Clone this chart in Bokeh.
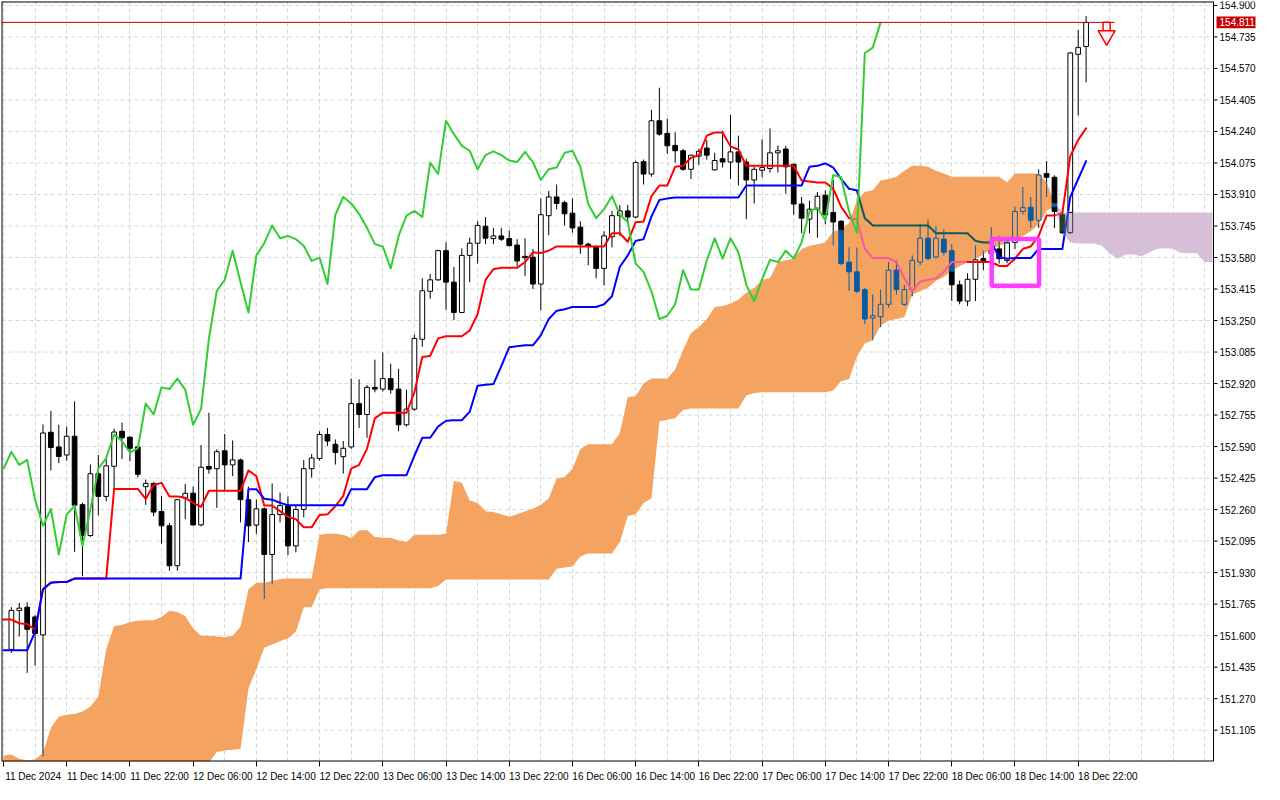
import numpy as np
from bokeh.plotting import figure
from bokeh.models import Range1d, FixedTicker
from bokeh.core.properties import value
from bokeh.embed import file_html
from bokeh.resources import INLINE

# ---------------- data (H1 bars, bar index 1 = 11 Dec 2024 07:00 ... 137 = 18 Dec 23:00)
opens = [151.528, 151.732, 151.749, 151.698, 151.604, 152.665, 152.588, 152.546, 152.644, 152.286,
         152.124, 152.448, 152.329, 152.487, 152.670, 152.639, 152.588, 152.380, 152.397, 152.250,
         152.175, 151.966, 152.320, 152.346, 152.180, 152.486, 152.474, 152.568, 152.494, 152.520,
         152.312, 152.179, 152.264, 152.025, 152.234, 152.281, 152.070, 152.261, 152.474, 152.528,
         152.653, 152.602, 152.537, 152.588, 152.815, 152.758, 152.900, 152.891, 152.946, 152.891,
         152.704, 152.786, 153.152, 153.403, 153.463, 153.616, 153.451, 153.292, 153.591, 153.655,
         153.744, 153.679, 153.693, 153.679, 153.645, 153.586, 153.582, 153.441, 153.799, 153.897,
         153.867, 153.812, 153.739, 153.650, 153.638, 153.523, 153.689, 153.799, 153.824, 153.792,
         154.082, 154.017, 154.296, 154.230, 154.167, 154.139, 154.042, 154.111, 154.153, 154.039,
         154.097, 154.080, 154.133, 154.080, 153.986, 154.037, 154.046, 154.128, 154.148, 154.068,
         153.860, 153.781, 153.833, 153.906, 153.816, 153.770, 153.556, 153.505, 153.412, 153.263,
         153.270, 153.335, 153.514, 153.335, 153.412, 153.556, 153.681, 153.582, 153.676, 153.616,
         153.437, 153.352, 153.466, 153.574, 153.601, 153.625, 153.565, 153.659, 153.821, 153.843,
         153.775, 154.020, 154.000, 153.804, 153.710, 154.644, 154.685]
highs = [151.749, 151.771, 151.775, 151.708, 152.706, 152.777, 152.704, 152.695, 152.827, 152.296,
         152.496, 152.546, 152.525, 152.684, 152.716, 152.644, 152.593, 152.418, 152.404, 152.332,
         152.189, 152.312, 152.394, 152.380, 152.598, 152.767, 152.576, 152.656, 152.622, 152.527,
         152.380, 152.312, 152.271, 152.397, 152.349, 152.329, 152.281, 152.520, 152.551, 152.670,
         152.687, 152.627, 152.619, 152.946, 152.942, 152.912, 153.045, 153.083, 153.024, 152.997,
         152.888, 153.176, 153.471, 153.494, 153.621, 153.659, 153.531, 153.628, 153.684, 153.770,
         153.792, 153.735, 153.735, 153.722, 153.676, 153.681, 153.625, 153.889, 153.928, 153.962,
         153.877, 153.889, 153.770, 153.657, 153.642, 153.718, 153.824, 153.855, 153.855, 154.088,
         154.093, 154.353, 154.469, 154.307, 154.235, 154.148, 154.116, 154.150, 154.196, 154.128,
         154.244, 154.327, 154.218, 154.097, 154.055, 154.199, 154.256, 154.167, 154.165, 154.072,
         153.897, 153.877, 153.923, 153.932, 153.986, 153.775, 153.633, 153.633, 153.420, 153.386,
         153.412, 153.556, 153.565, 153.437, 153.591, 153.756, 153.778, 153.744, 153.727, 153.650,
         153.459, 153.497, 153.642, 153.616, 153.739, 153.693, 153.677, 153.846, 153.949, 153.897,
         154.042, 154.085, 154.010, 153.821, 154.656, 154.771, 154.844]
lows = [151.510, 151.596, 151.405, 151.442, 150.968, 152.465, 152.503, 152.516, 152.039, 151.911,
        152.117, 152.230, 152.303, 152.363, 152.525, 152.513, 152.428, 152.285, 152.226, 152.082,
        151.940, 151.940, 152.210, 152.175, 152.172, 152.448, 152.269, 152.363, 152.435, 152.193,
        152.090, 152.133, 151.792, 151.868, 152.193, 152.022, 152.036, 152.220, 152.428, 152.516,
        152.593, 152.496, 152.448, 152.578, 152.687, 152.636, 152.874, 152.878, 152.866, 152.670,
        152.695, 152.777, 153.113, 153.364, 153.458, 153.306, 153.253, 153.289, 153.451, 153.548,
        153.650, 153.650, 153.667, 153.638, 153.534, 153.483, 153.415, 153.304, 153.696, 153.833,
        153.748, 153.710, 153.599, 153.539, 153.471, 153.434, 153.633, 153.693, 153.761, 153.785,
        153.962, 154.003, 154.218, 154.123, 154.077, 154.034, 153.991, 154.065, 154.093, 154.036,
        154.051, 153.991, 153.957, 153.781, 153.863, 154.000, 154.025, 154.025, 153.914, 153.804,
        153.707, 153.707, 153.684, 153.754, 153.642, 153.539, 153.406, 153.395, 153.232, 153.147,
        153.216, 153.318, 153.386, 153.326, 153.377, 153.539, 153.565, 153.575, 153.591, 153.352,
        153.335, 153.326, 153.352, 153.514, 153.565, 153.548, 153.550, 153.625, 153.804, 153.735,
        153.735, 153.897, 153.735, 153.703, 153.703, 154.324, 154.497]
closes = [151.732, 151.744, 151.633, 151.611, 152.661, 152.585, 152.538, 152.644, 152.283, 152.124,
          152.448, 152.329, 152.489, 152.666, 152.636, 152.581, 152.445, 152.397, 152.247, 152.175,
          151.966, 152.312, 152.345, 152.180, 152.482, 152.472, 152.563, 152.494, 152.520, 152.312,
          152.175, 152.264, 152.025, 152.234, 152.281, 152.070, 152.261, 152.474, 152.530, 152.653,
          152.619, 152.559, 152.581, 152.815, 152.758, 152.900, 152.891, 152.946, 152.888, 152.704,
          152.786, 153.156, 153.406, 153.463, 153.616, 153.451, 153.292, 153.591, 153.655, 153.748,
          153.681, 153.693, 153.676, 153.642, 153.562, 153.579, 153.441, 153.804, 153.897, 153.863,
          153.809, 153.735, 153.650, 153.638, 153.523, 153.693, 153.799, 153.824, 153.792, 154.077,
          154.017, 154.296, 154.226, 154.165, 154.139, 154.042, 154.116, 154.136, 154.116, 154.088,
          154.080, 154.133, 154.080, 153.986, 154.042, 154.051, 154.128, 154.139, 154.055, 153.860,
          153.786, 153.833, 153.901, 153.804, 153.766, 153.548, 153.505, 153.403, 153.258, 153.275,
          153.335, 153.514, 153.412, 153.412, 153.565, 153.681, 153.574, 153.681, 153.608, 153.437,
          153.352, 153.466, 153.568, 153.556, 153.616, 153.574, 153.659, 153.821, 153.841, 153.775,
          154.012, 154.000, 153.821, 153.710, 154.651, 154.679, 154.811]

# Ichimoku lines, bar index 0..137
tenkan = [151.684, 151.684, 151.664, 151.661, 151.630, 151.843, 151.877, 151.881, 151.881, 151.899,
          151.899, 151.899, 151.899, 151.899, 152.368, 152.368, 152.368, 152.368, 152.316, 152.389,
          152.400, 152.329, 152.329, 152.322, 152.295, 152.274, 152.359, 152.359, 152.359, 152.359,
          152.359, 152.465, 152.435, 152.281, 152.281, 152.252, 152.221, 152.210, 152.167, 152.167,
          152.232, 152.235, 152.278, 152.332, 152.475, 152.494, 152.578, 152.738, 152.767, 152.767,
          152.767, 152.767, 152.874, 153.059, 153.065, 153.156, 153.168, 153.168, 153.168, 153.198,
          153.284, 153.463, 153.519, 153.526, 153.526, 153.526, 153.556, 153.607, 153.604, 153.616,
          153.638, 153.638, 153.638, 153.638, 153.638, 153.638, 153.638, 153.707, 153.707, 153.662,
          153.765, 153.768, 153.901, 153.957, 153.957, 154.055, 154.060, 154.102, 154.116, 154.218,
          154.235, 154.235, 154.162, 154.145, 154.060, 154.060, 154.060, 154.060, 154.060, 154.060,
          154.060, 153.983, 153.978, 153.973, 153.973, 153.940, 153.846, 153.786, 153.778, 153.625,
          153.577, 153.577, 153.577, 153.556, 153.471, 153.403, 153.454, 153.463, 153.471, 153.505,
          153.556, 153.556, 153.556, 153.556, 153.556, 153.556, 153.536, 153.536, 153.574, 153.625,
          153.638, 153.693, 153.800, 153.800, 153.812, 154.111, 154.196, 154.256]
kijun = [151.523, 151.523, 151.523, 151.523, 151.621, 151.843, 151.877, 151.881, 151.881, 151.899,
         151.899, 151.899, 151.899, 151.899, 151.899, 151.899, 151.899, 151.899, 151.899, 151.899,
         151.899, 151.899, 151.899, 151.899, 151.899, 151.899, 151.899, 151.899, 151.899, 151.899,
         151.899, 152.367, 152.367, 152.317, 152.312, 152.296, 152.283, 152.283, 152.283, 152.283,
         152.283, 152.283, 152.283, 152.283, 152.367, 152.367, 152.367, 152.430, 152.440, 152.440,
         152.440, 152.440, 152.542, 152.636, 152.636, 152.695, 152.725, 152.728, 152.728, 152.772,
         152.909, 152.914, 152.917, 153.011, 153.110, 153.116, 153.120, 153.120, 153.173, 153.258,
         153.301, 153.309, 153.321, 153.321, 153.321, 153.321, 153.335, 153.377, 153.531, 153.591,
         153.667, 153.676, 153.795, 153.881, 153.889, 153.894, 153.894, 153.894, 153.894, 153.894,
         153.894, 153.894, 153.894, 153.894, 153.957, 153.957, 153.957, 153.957, 153.957, 153.957,
         153.957, 153.957, 154.055, 154.060, 154.073, 154.051, 153.991, 153.940, 153.932, 153.786,
         153.748, 153.748, 153.748, 153.748, 153.748, 153.748, 153.748, 153.748, 153.707, 153.707,
         153.707, 153.707, 153.707, 153.667, 153.659, 153.659, 153.582, 153.574, 153.577, 153.577,
         153.577, 153.625, 153.625, 153.625, 153.625, 153.897, 153.991, 154.085]
# cloud spans (already shifted 26 bars ahead), bar index 0..153
span_a = [150.973, 150.978, 150.956, 150.948, 150.951, 150.985, 151.118, 151.175, 151.186, 151.190,
          151.203, 151.229, 151.280, 151.529, 151.650, 151.656, 151.671, 151.678, 151.681, 151.681,
          151.698, 151.730, 151.724, 151.703, 151.638, 151.599, 151.599, 151.596, 151.592, 151.599,
          151.647, 151.843, 151.877, 151.877, 151.886, 151.897, 151.899, 151.899, 151.899, 151.899,
          152.128, 152.133, 152.133, 152.128, 152.111, 152.150, 152.153, 152.116, 152.112, 152.112,
          152.098, 152.090, 152.128, 152.128, 152.128, 152.128, 152.133, 152.411, 152.400, 152.307,
          152.295, 152.252, 152.247, 152.235, 152.223, 152.235, 152.252, 152.264, 152.286, 152.320,
          152.423, 152.431, 152.474, 152.576, 152.602, 152.602, 152.602, 152.602, 152.661, 152.849,
          152.854, 152.920, 152.946, 152.946, 152.946, 152.994, 153.096, 153.185, 153.216, 153.258,
          153.321, 153.326, 153.338, 153.360, 153.395, 153.420, 153.463, 153.471, 153.556, 153.565,
          153.574, 153.625, 153.642, 153.650, 153.659, 153.718, 153.727, 153.761, 153.881, 153.923,
          153.932, 153.983, 153.991, 154.003, 154.034, 154.060, 154.060, 154.055, 154.034, 154.020,
          154.003, 154.003, 154.003, 154.003, 154.003, 154.003, 154.003, 153.974, 154.020, 154.020,
          154.020, 154.020, 153.974, 153.867, 153.718, 153.657, 153.653, 153.653, 153.653, 153.642,
          153.601, 153.574, 153.596, 153.596, 153.586, 153.606, 153.626, 153.628, 153.626, 153.604,
          153.604, 153.604, 153.556, 153.556]
span_b = [150.900, 150.900, 150.900, 150.900, 150.900, 150.900, 150.900, 150.900, 150.900, 150.900,
          150.900, 150.900, 150.900, 150.900, 150.900, 150.900, 150.900, 150.900, 150.900, 150.900,
          150.900, 150.900, 150.900, 150.900, 150.900, 150.900, 150.935, 150.991, 150.999, 151.002,
          151.007, 151.323, 151.425, 151.536, 151.553, 151.570, 151.587, 151.621, 151.749, 151.749,
          151.843, 151.848, 151.848, 151.848, 151.848, 151.848, 151.848, 151.848, 151.848, 151.848,
          151.848, 151.848, 151.848, 151.848, 151.848, 151.860, 151.894, 151.894, 151.894, 151.894,
          151.894, 151.894, 151.894, 151.894, 151.894, 151.894, 151.894, 151.894, 151.894, 151.894,
          151.950, 151.957, 151.962, 152.014, 152.030, 152.030, 152.030, 152.030, 152.090, 152.226,
          152.235, 152.295, 152.320, 152.721, 152.730, 152.738, 152.781, 152.789, 152.789, 152.789,
          152.789, 152.789, 152.789, 152.789, 152.858, 152.871, 152.874, 152.874, 152.874, 152.874,
          152.874, 152.874, 152.874, 152.874, 152.874, 152.883, 152.934, 152.942, 153.062, 153.130,
          153.147, 153.224, 153.249, 153.258, 153.267, 153.386, 153.403, 153.422, 153.458, 153.478,
          153.509, 153.534, 153.555, 153.573, 153.596, 153.626, 153.642, 153.657, 153.672, 153.693,
          153.718, 153.754, 153.826, 153.846, 153.816, 153.816, 153.816, 153.816, 153.816, 153.816,
          153.816, 153.816, 153.816, 153.816, 153.816, 153.816, 153.816, 153.816, 153.816, 153.816,
          153.816, 153.816, 153.816, 153.816]

tick_bars = [0, 8, 16, 24, 32, 40, 48, 56, 64, 72, 80, 88, 96, 104, 112, 120, 128, 136]
tick_labels = ["11 Dec 2024", "11 Dec 14:00", "11 Dec 22:00", "12 Dec 06:00", "12 Dec 14:00",
               "12 Dec 22:00", "13 Dec 06:00", "13 Dec 14:00", "13 Dec 22:00", "16 Dec 06:00",
               "16 Dec 14:00", "16 Dec 22:00", "17 Dec 06:00", "17 Dec 14:00", "17 Dec 22:00",
               "18 Dec 06:00", "18 Dec 14:00", "18 Dec 22:00"]
price_ticks = [154.900, 154.735, 154.570, 154.405, 154.240, 154.075, 153.910, 153.745, 153.580,
               153.415, 153.250, 153.085, 152.920, 152.755, 152.590, 152.425, 152.260, 152.095,
               151.930, 151.765, 151.600, 151.435, 151.270, 151.105]
bid_price = 154.811
signal_bar = 139.6
signal_price = 154.76
box_bars = (125.05, 131.05)
box_prices = (153.432, 153.677)

# ---------------- layout constants
X0, X_AXIS, X_END = -0.25, 153.125, 159.45       # chart area ends at X_AXIS, price scale beyond
Y0, Y1 = 150.941, 154.9205
PX_PER_BAR = 1212 / (X_AXIS - X0)

SANDY = (244, 164, 96)
THISTLE = (216, 191, 216)
BLACK = (0, 0, 0)
RED = (255, 0, 0)
BLUE = (0, 0, 255)
FONT = "Liberation Sans"


def hexc(rgb):
    return "#%02x%02x%02x" % tuple(rgb)


def xor_hex(under, cloud):
    return hexc(tuple(c ^ (255 - u) for u, c in zip(under, cloud)))


A = np.array(span_a)
B = np.array(span_b)
lo = np.minimum(A, B)
hi = np.maximum(A, B)
up = A >= B


def cloud_rgb(j):
    return SANDY if up[j] else THISTLE


def split(a, b, clo, chi):
    parts = []
    if a < clo:
        parts.append((a, min(b, clo), False))
    s, e = max(a, clo), min(b, chi)
    if e > s:
        parts.append((s, e, True))
    if b > chi:
        parts.append((max(a, chi), b, False))
    return parts


p = figure(frame_width=1262, frame_height=760,
           x_range=Range1d(X0, X_END), y_range=Range1d(Y0, Y1),
           y_axis_location=None, toolbar_location=None, output_backend="svg",
           min_border_left=1, min_border_top=1, min_border_right=1, min_border_bottom=22)
p.background_fill_color = "white"
p.border_fill_color = "white"
p.outline_line_color = None

# vertical grid (built-in) and horizontal grid (drawn only over the chart area)
p.xgrid.ticker = FixedTicker(ticks=list(range(0, 156, 4)))
p.xgrid.grid_line_color = "#d6d6d6"
p.xgrid.grid_line_dash = "4 3"
p.ygrid.grid_line_color = None
p.segment(x0=[X0] * len(price_ticks), y0=price_ticks, x1=[X_AXIS] * len(price_ticks), y1=price_ticks,
          line_color="#d6d6d6", line_dash="4 3", line_width=1)

# time axis
label_pos = [t + 3.75 for t in tick_bars]
p.xaxis.ticker = FixedTicker(ticks=label_pos, minor_ticks=tick_bars)
p.xaxis.major_label_overrides = {pos: lab for pos, lab in zip(label_pos, tick_labels)}
p.xaxis.major_tick_line_color = None
p.xaxis.minor_tick_out = 5
p.xaxis.minor_tick_in = 0
p.xaxis.minor_tick_line_color = "black"
p.xaxis.major_label_standoff = 3
p.xaxis.axis_line_color = None
p.xaxis.major_label_text_font = FONT
p.xaxis.major_label_text_font_size = "10px"
p.xaxis.major_label_text_color = "black"

# cloud
jj = np.arange(len(span_a))
n_up = 134
p.varea(x=jj[:n_up], y1=lo[:n_up], y2=hi[:n_up], fill_color=hexc(SANDY))
p.varea(x=jj[n_up - 1:], y1=lo[n_up - 1:], y2=hi[n_up - 1:], fill_color=hexc(THISTLE))

# candles (colours inverted where the cloud covers them, as in the terminal)
wx, wy0, wy1, wc = [], [], [], []
ql, qr, qb, qt, qf, qlc = [], [], [], [], [], []
for k in range(len(closes)):
    j = k + 1
    o, h, l, c = opens[k], highs[k], lows[k], closes[k]
    clo, chi = lo[j], hi[j]
    cc = cloud_rgb(j)
    inv = xor_hex(BLACK, cc)
    for a, b, ins in split(l, h, clo, chi):
        wx.append(j); wy0.append(a); wy1.append(b); wc.append(inv if ins else "black")
    top, bot = max(o, c), min(o, c)
    bull = c >= o
    parts = split(bot, top, clo, chi) if top > bot else [(bot, top, clo <= bot <= chi)]
    for a, b, ins in parts:
        ql.append(j - 0.3); qr.append(j + 0.3); qb.append(a); qt.append(b)
        if bull:
            qf.append(hexc(cc) if ins else "white")
            qlc.append(inv if ins else "black")
        else:
            qf.append(inv if ins else "black")
            qlc.append(inv if ins else "black")

p.segment(x0=wx, y0=wy0, x1=wx, y1=wy1, line_color=wc, line_width=1)
p.quad(left=ql, right=qr, bottom=qb, top=qt, fill_color=qf, line_color=qlc, line_width=1)


def colored_runs(vals, base, nsub=4):
    xs, ys, cols = [], [], []
    cur = None
    for j in range(len(vals) - 1):
        for s in range(nsub):
            t0, t1 = s / nsub, (s + 1) / nsub
            y0 = vals[j] + (vals[j + 1] - vals[j]) * t0
            y1 = vals[j] + (vals[j + 1] - vals[j]) * t1
            tm = (t0 + t1) / 2
            ym = (y0 + y1) / 2
            clo = lo[j] + (lo[j + 1] - lo[j]) * tm
            chi = hi[j] + (hi[j + 1] - hi[j]) * tm
            cc = cloud_rgb(j if tm < 0.5 else j + 1)
            col = xor_hex(base, cc) if clo <= ym <= chi else hexc(base)
            if col != cur:
                xs.append([j + t0]); ys.append([y0]); cols.append(col)
                cur = col
            xs[-1].append(j + t1); ys[-1].append(y1)
    return xs, ys, cols


for series, base in ((tenkan, RED), (kijun, BLUE)):
    xs, ys, cols = colored_runs(series, base)
    p.multi_line(xs=xs, ys=ys, line_color=cols, line_width=2, line_join="round", line_cap="round")

# chikou span: closes shifted 26 bars back
chikou_x = list(range(0, len(closes) - 25))
chikou_y = closes[25:]
p.line(chikou_x, chikou_y, line_color="#32cd32", line_width=2, line_join="round")

# bid line
p.line([X0, 140.6], [bid_price, bid_price], line_color="#c00000", line_width=1)

# magenta box
p.quad(left=[box_bars[0]], right=[box_bars[1]], bottom=[box_prices[0]], top=[box_prices[1]],
       fill_alpha=0, line_color="#ff3cff", line_width=4.5)

# sell arrow
p.rect(x=[signal_bar], y=[signal_price + 0.027], width=0.9, height=0.05,
       fill_color="#fff4f4", line_color="#ff0000", line_width=1.5)
p.scatter(x=[signal_bar], y=[signal_price - 0.018], marker="inverted_triangle", size=17,
          fill_color="#fff4f4", line_color="#ff0000", line_width=1.5)

# chart border (left, top, bottom) and the price scale on the right
p.segment(x0=[X0, X0, X0], y0=[Y0, Y1, Y0], x1=[X0, X_AXIS, X_AXIS], y1=[Y1, Y1, Y0],
          line_color="black", line_width=2)
p.segment(x0=[X_AXIS], y0=[Y0], x1=[X_AXIS], y1=[Y1], line_color="black", line_width=1)
tick_len = 4 / PX_PER_BAR
p.segment(x0=[X_AXIS] * len(price_ticks), y0=price_ticks,
          x1=[X_AXIS + tick_len] * len(price_ticks), y1=price_ticks, line_color="black", line_width=1)
p.text(x=[X_AXIS + 6 / PX_PER_BAR] * len(price_ticks), y=price_ticks,
       text=["%.3f" % v for v in price_ticks], text_font=value(FONT), text_font_size="10px",
       text_baseline="middle", text_align="left", text_color="black")

# current price tag
p.quad(left=[X_AXIS + 3 / PX_PER_BAR], right=[X_AXIS + 42 / PX_PER_BAR],
       bottom=[bid_price - 0.031], top=[bid_price + 0.031], fill_color="#c80000", line_color=None)
p.text(x=[X_AXIS + 6 / PX_PER_BAR], y=[bid_price], text=["%.3f" % bid_price],
       text_font=value(FONT), text_font_size="10px", text_baseline="middle", text_align="left",
       text_color="white")

open("out.html", "w").write(file_html(p, INLINE))
